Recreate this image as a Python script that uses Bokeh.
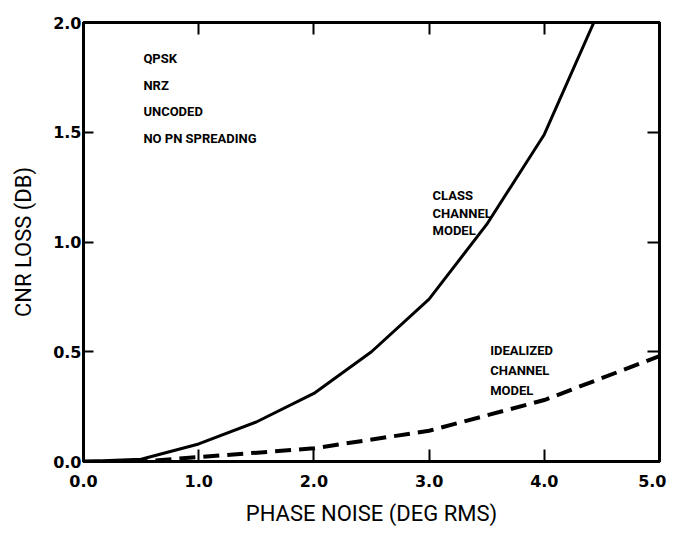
from bokeh.plotting import figure
from bokeh.models import Range1d, LinearAxis, FixedTicker, Label
from bokeh.embed import file_html
from bokeh.resources import INLINE

# ---- data ----
phase_class = [0.0, 0.5, 1.0, 1.5, 2.0, 2.5, 3.0, 3.5, 4.0, 4.43]
loss_class = [0.0, 0.01, 0.08, 0.18, 0.31, 0.50, 0.74, 1.08, 1.49, 2.0]

phase_ideal = [0.0, 0.5, 1.0, 2.0, 3.0, 4.0, 5.0]
loss_ideal = [0.0, 0.0, 0.02, 0.06, 0.14, 0.28, 0.48]

x_ticks = [0, 1, 2, 3, 4, 5]
y_ticks = [0.0, 0.5, 1.0, 1.5, 2.0]
x_tick_labels = {0: "0.0", 1: "1.0", 2: "2.0", 3: "3.0", 4: "4.0", 5: "5.0"}
y_tick_labels = {0: "0.0", 0.5: "0.5", 1: "1.0", 1.5: "1.5", 2: "2.0"}

notes = ["QPSK", "NRZ", "UNCODED", "NO PN SPREADING"]
class_label = ["CLASS", "CHANNEL", "MODEL"]
ideal_label = ["IDEALIZED", "CHANNEL", "MODEL"]

x_title = "PHASE NOISE (DEG RMS)"
y_title = "CNR LOSS (DB)"

FONT = "Roboto"

p = figure(output_backend="svg", toolbar_location=None,
           x_range=Range1d(0, 5), y_range=Range1d(0, 2),
           frame_width=576, frame_height=439,
           min_border_left=83, min_border_right=7,
           min_border_top=22, min_border_bottom=66)
p.background_fill_color = "white"
p.border_fill_color = "white"
p.outline_line_color = "black"
p.outline_line_width = 3
p.xgrid.visible = False
p.ygrid.visible = False

# bottom axis
xa = p.xaxis[0]
xa.ticker = FixedTicker(ticks=x_ticks)
xa.major_label_overrides = x_tick_labels
xa.major_tick_in = 12
xa.major_tick_out = 0
xa.minor_tick_in = 0
xa.minor_tick_out = 0
xa.major_tick_line_width = 2
xa.axis_line_width = 3
xa.major_label_text_font = "DejaVu Sans"
xa.major_label_text_font_style = "bold"
xa.major_label_text_font_size = "16px"
xa.major_label_text_color = "black"
xa.major_label_standoff = 13
xa.axis_label = x_title
xa.axis_label_text_font = FONT
xa.axis_label_text_font_style = "normal"
xa.axis_label_text_font_size = "22px"
xa.axis_label_text_color = "black"
xa.axis_label_standoff = 11

# left axis
ya = p.yaxis[0]
ya.ticker = FixedTicker(ticks=y_ticks)
ya.major_label_overrides = y_tick_labels
ya.major_tick_in = 10
ya.major_tick_out = 0
ya.minor_tick_in = 0
ya.minor_tick_out = 0
ya.major_tick_line_width = 2
ya.axis_line_width = 3
ya.major_label_text_font = "DejaVu Sans"
ya.major_label_text_font_style = "bold"
ya.major_label_text_font_size = "16px"
ya.major_label_text_color = "black"
ya.major_label_standoff = 2
ya.major_label_orientation = "horizontal"
ya.axis_label = y_title
ya.axis_label_text_font = FONT
ya.axis_label_text_font_style = "normal"
ya.axis_label_text_font_size = "22px"
ya.axis_label_text_color = "black"
ya.axis_label_standoff = 14

# top and right axes: inward ticks only, no labels
top = LinearAxis(ticker=FixedTicker(ticks=x_ticks[1:-1]),
                 major_label_overrides={t: "" for t in x_ticks[1:-1]})
right = LinearAxis(ticker=FixedTicker(ticks=y_ticks[1:-1]),
                   major_label_overrides={t: "" for t in y_ticks[1:-1]})
for ax in (top, right):
    ax.major_tick_in = 12
    ax.major_tick_out = 0
    ax.minor_tick_in = 0
    ax.minor_tick_out = 0
    ax.major_tick_line_width = 2
    ax.axis_line_width = 3
    ax.major_label_standoff = 0
p.add_layout(top, "above")
p.add_layout(right, "right")

# curves
p.line(phase_class, loss_class, line_color="black", line_width=3)
p.line(phase_ideal, loss_ideal, line_color="black", line_width=4,
       line_dash="16 8")

# annotations
for i, t in enumerate(notes):
    p.add_layout(Label(x=0.52, y=1.836 - i * 0.121, text=t,
                       text_font=FONT, text_font_style="bold",
                       text_font_size="13px", text_baseline="middle",
                       text_color="black"))
for i, t in enumerate(class_label):
    p.add_layout(Label(x=3.03, y=1.21 - i * 0.078, text=t,
                       text_font=FONT, text_font_style="bold",
                       text_font_size="13px", text_baseline="middle",
                       text_color="black"))
for i, t in enumerate(ideal_label):
    p.add_layout(Label(x=3.53, y=0.505 - i * 0.09, text=t,
                       text_font=FONT, text_font_style="bold",
                       text_font_size="13px", text_baseline="middle",
                       text_color="black"))

open("out.html", "w").write(file_html(p, INLINE))
